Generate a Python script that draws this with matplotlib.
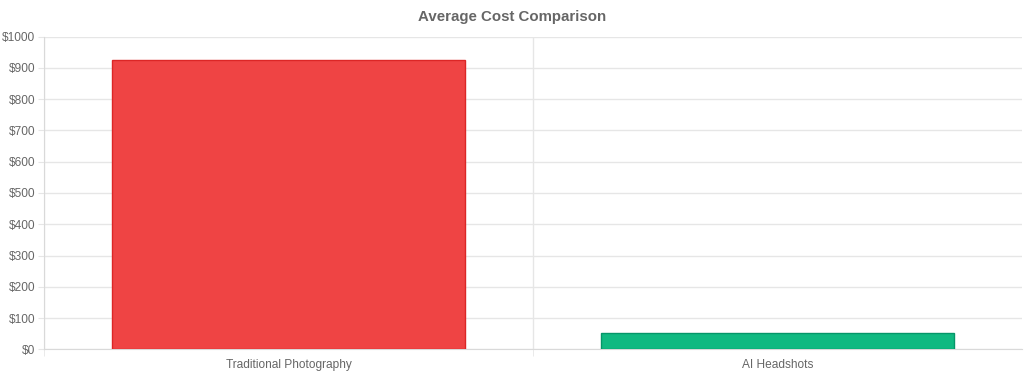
import matplotlib
matplotlib.use("Agg")
import matplotlib.pyplot as plt
from matplotlib.ticker import FuncFormatter, MultipleLocator, FixedLocator

categories = ["Traditional Photography", "AI Headshots"]
costs = [924, 52]
fill_colors = ["#EF4444", "#10B981"]
edge_colors = ["#DC2626", "#059669"]
title = "Average Cost Comparison"

plt.rcParams['font.family'] = ['Liberation Sans', 'DejaVu Sans']

fig = plt.figure(figsize=(10.24, 3.76), dpi=100)
ax = fig.add_axes([44/1024, 1 - 349.3/376, (1022 - 44)/1024, (349.3 - 36.7)/376])

x = list(range(len(categories)))
ax.bar(x, costs, width=0.72, color=fill_colors, edgecolor=edge_colors, linewidth=1.0, zorder=3)

ax.set_xlim(-0.5, len(categories) - 0.5)
ax.set_ylim(0, 1000)
ax.yaxis.set_major_locator(MultipleLocator(100))
ax.yaxis.set_major_formatter(FuncFormatter(lambda v, p: f"${int(v)}"))
ax.set_xticks(x)
ax.set_xticklabels(categories)
ax.xaxis.set_minor_locator(FixedLocator([i + 0.5 for i in x[:-1]] + [-0.5]))

grid_c = "#e6e6e6"
ax.grid(axis='y', which='major', color=grid_c, linewidth=1, zorder=0)
ax.grid(axis='x', which='minor', color=grid_c, linewidth=1, zorder=0)
for s in ['top', 'right']:
    ax.spines[s].set_visible(False)
ax.spines['left'].set_color("#d9d9d9")
ax.spines['bottom'].set_color("#d9d9d9")

ax.tick_params(axis='y', which='major', length=4.3, color=grid_c, labelsize=8.6, labelcolor="#666666", pad=2.2)
ax.tick_params(axis='x', which='major', length=0, labelsize=8.6, labelcolor="#666666", pad=7)
ax.tick_params(axis='x', which='minor', length=5, color=grid_c)

fig.text(0.5, 1 - 17.5/376, title, ha='center', va='center', fontsize=10.8,
         fontweight='bold', color="#666666")

fig.savefig("out.png", dpi=100, facecolor="white")
